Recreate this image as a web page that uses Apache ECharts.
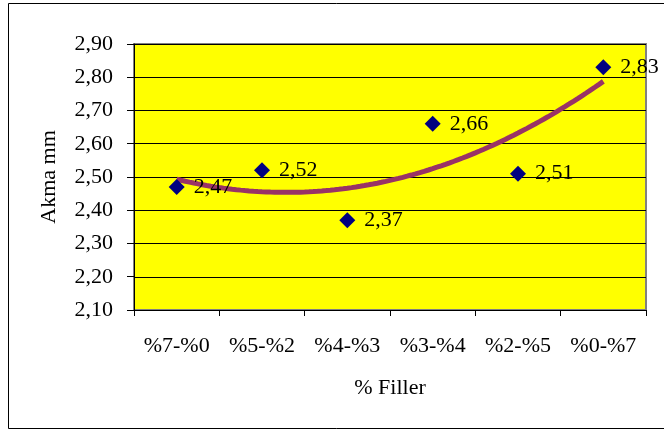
<!DOCTYPE html>
<html>
<head>
<meta charset="utf-8">
<script src="https://cdn.jsdelivr.net/npm/echarts@6/dist/echarts.min.js"></script>
<style>
  html, body { margin: 0; padding: 0; background: #ffffff; }
  #chart { width: 664px; height: 432px; }
</style>
</head>
<body>
<div id="chart"></div>
<script>
// Filler ratio groups and measured flow (Akma) values in mm
const categories = ['%7-%0', '%5-%2', '%4-%3', '%3-%4', '%2-%5', '%0-%7'];
const akmaValues = [2.47, 2.52, 2.37, 2.66, 2.51, 2.83];
const yTicks = { min: 2.1, max: 2.9, step: 0.1 };

const FONT = '"Liberation Serif", "Times New Roman", serif';
const FS = 22;
const fmt = v => Number(v).toFixed(2).replace('.', ',');

// Second-order polynomial trendline (least squares) over positions 1..n
function quadFit(ys) {
  const n = ys.length;
  let s = [0, 0, 0, 0, 0], t = [0, 0, 0];
  for (let i = 0; i < n; i++) {
    const x = i + 1, y = ys[i];
    for (let k = 0; k <= 4; k++) s[k] += Math.pow(x, k);
    for (let k = 0; k <= 2; k++) t[k] += Math.pow(x, k) * y;
  }
  // Solve normal equations 3x3 by Cramer's rule
  const M = [[s[0], s[1], s[2]], [s[1], s[2], s[3]], [s[2], s[3], s[4]]];
  const det = m => m[0][0] * (m[1][1] * m[2][2] - m[1][2] * m[2][1])
    - m[0][1] * (m[1][0] * m[2][2] - m[1][2] * m[2][0])
    + m[0][2] * (m[1][0] * m[2][1] - m[1][1] * m[2][0]);
  const D = det(M);
  const coef = [0, 1, 2].map(c => {
    const m = M.map((row, r) => row.map((v, j) => (j === c ? t[r] : v)));
    return det(m) / D;
  });
  return x => coef[0] + coef[1] * x + coef[2] * x * x;
}
const trend = quadFit(akmaValues);
const trendPoints = [];
for (let i = 0; i <= 100; i++) {
  const x = 1 + (categories.length - 1) * i / 100;
  trendPoints.push([x, trend(x)]);
}

const chart = echarts.init(document.getElementById('chart'), null, { renderer: 'canvas' });
chart.setOption({
  animation: false,
  backgroundColor: '#ffffff',
  textStyle: { fontFamily: FONT },
  graphic: [{
    type: 'rect',
    shape: { x: 8.5, y: 3.5, width: 700, height: 425 },
    style: { fill: 'none', stroke: '#000000', lineWidth: 1 },
    z: -10
  }, {
    type: 'rect',
    shape: { x: 134, y: 44, width: 512, height: 266 },
    style: { fill: 'none', stroke: '#808080', lineWidth: 2 },
    z: 0
  }],
  grid: {
    left: 134, right: 18, top: 44, bottom: 122,
    show: true, backgroundColor: '#ffff00', borderWidth: 0
  },
  xAxis: [{
    type: 'category',
    data: categories,
    boundaryGap: true,
    name: '% Filler',
    nameLocation: 'middle',
    nameGap: 67,
    nameTextStyle: { fontFamily: FONT, fontSize: FS, color: '#000' },
    axisLine: { lineStyle: { color: '#000', width: 1 } },
    axisTick: { show: true, alignWithLabel: false, length: 6, lineStyle: { color: '#000' } },
    axisLabel: { fontFamily: FONT, fontSize: FS, color: '#000', margin: 25, interval: 0 },
    splitLine: { show: false }
  }, {
    type: 'value',
    min: 0.5, max: 6.5,
    show: false
  }],
  yAxis: {
    type: 'value',
    min: yTicks.min, max: yTicks.max, interval: yTicks.step,
    name: 'Akma mm',
    nameLocation: 'middle',
    nameGap: 74,
    nameTextStyle: { fontFamily: FONT, fontSize: FS, color: '#000' },
    axisLine: { show: true, lineStyle: { color: '#000', width: 1 } },
    axisTick: { show: true, length: 7, lineStyle: { color: '#000' } },
    axisLabel: { fontFamily: FONT, fontSize: FS, color: '#000', margin: 21, formatter: fmt },
    splitLine: { show: true, lineStyle: { color: '#000', width: 1 } }
  },
  series: [{
    name: 'Trend',
    type: 'line',
    xAxisIndex: 1,
    data: trendPoints,
    showSymbol: false,
    symbol: 'none',
    lineStyle: { color: '#993366', width: 5 },
    z: 2,
    silent: true
  }, {
    name: 'Akma',
    type: 'scatter',
    xAxisIndex: 0,
    data: akmaValues,
    symbol: 'diamond',
    symbolSize: 16,
    itemStyle: { color: '#000080', opacity: 1 },
    label: {
      show: true,
      position: 'right',
      distance: 9,
      fontFamily: FONT,
      fontSize: FS,
      color: '#000',
      formatter: p => fmt(p.value)
    },
    z: 3
  }]
});
</script>
</body>
</html>
